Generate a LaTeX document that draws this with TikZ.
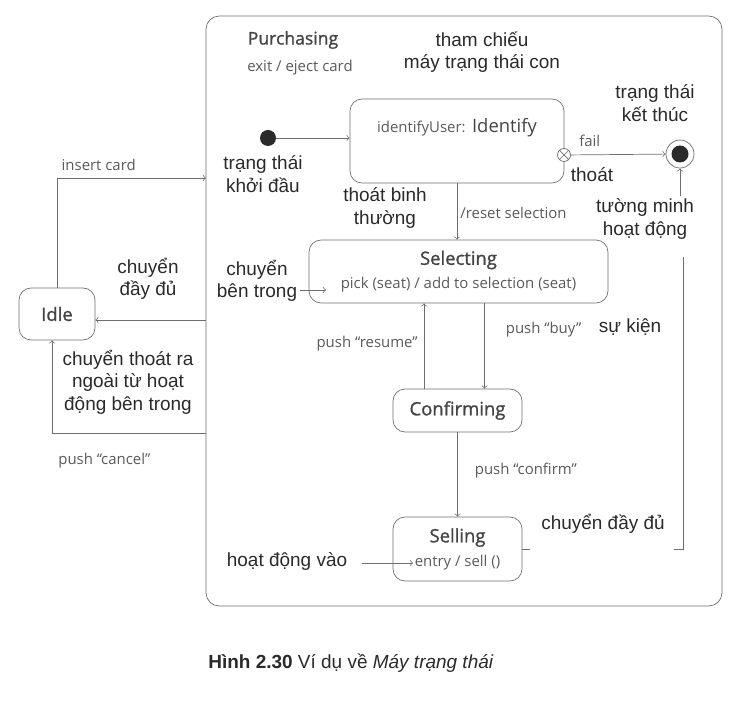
\documentclass[tikz,border=0pt]{standalone}
\usepackage{fontspec}
\setmainfont{Liberation Sans}
\newfontfamily\umlfont{Open Sans}
\newfontfamily\umltitle{Open Sans}[FakeBold=1.2]
\usetikzlibrary{positioning}
\definecolor{umlgray}{HTML}{5A5A5A}
\definecolor{titlegray}{HTML}{444444}
\definecolor{linegray}{HTML}{6E6E6E}
\definecolor{inkdark}{HTML}{2A2A2A}
\begin{document}
\begin{tikzpicture}[x=0.02cm,y=-0.02cm]
\tikzstyle{umlstate}=[draw=linegray, rounded corners=0.24cm, text=titlegray, font=\umltitle\fontsize{10.5}{12.5}\selectfont, align=center, inner sep=0pt]
\tikzstyle{uml}=[text=umlgray, font=\umlfont\fontsize{8.5}{10}\selectfont, inner sep=0pt]
\tikzstyle{note}=[text=inkdark, font=\fontsize{10.8}{12.8}\selectfont, align=center, inner sep=0pt]
\tikzstyle{trans}=[draw=linegray, ->]
\useasboundingbox (0,0) rectangle (754,712);
% outer state
\node[draw=linegray, rounded corners=0.26cm, minimum width=10.32cm, minimum height=11.8cm] (purch) at (464,311) {};
\node[uml, text=titlegray, font=\umltitle\fontsize{10}{12}\selectfont] (purchName) at (293,40) {Purchasing};
\node[uml] (purchExit) at (300,68) {exit / eject card};
\node[note] (lblRef) at (482,52) {tham chiếu\\máy trạng thái con};
% submachine
\node[fill=inkdark, circle, minimum size=0.32cm, inner sep=0pt] (init) at (268,138) {};
\node[note] (lblInit) at (263,174) {trạng thái\\khởi đầu};
\node[umlstate, minimum width=4.28cm, minimum height=1.68cm, text height=0.2cm, text depth=0.52cm] (ident) at (457,141) {{\umlfont\color{umlgray}\fontsize{8.5}{10}\selectfont identifyUser:} {\umlfont Identify}};
\node[draw=linegray, fill=white, circle, minimum size=0.26cm, inner sep=0pt,
  path picture={\draw[linegray] (path picture bounding box.north west) -- (path picture bounding box.south east)
    (path picture bounding box.north east) -- (path picture bounding box.south west);}] (exitPt) at (564,155) {};
\node[draw=linegray, circle, minimum size=0.56cm, inner sep=0pt,
  path picture={\fill[inkdark] (path picture bounding box.center) circle (0.17cm);}] (final) at (680,154) {};
\node[note] (lblFinal) at (655,103) {trạng thái\\kết thúc};
\node[note] (lblExit) at (592,175) {thoát};
\node[note] (lblExplicit) at (645,219) {tường minh\\hoạt động};
\coordinate (explTail) at (680,196);
\draw[trans] (init) -- (ident.west |- init);
\draw[trans] (exitPt) -- (final) node[uml, pos=0.2, above=0.15cm] {fail};
\draw[trans] (explTail) -- (final.south);
% selecting
\node[umlstate, minimum width=5.98cm, minimum height=1.26cm] (sel) at (458.5,271.5) {Selecting\\[1pt]{\umlfont\color{umlgray}\fontsize{8.5}{10}\selectfont pick (seat) / add to selection (seat)}};
\draw[trans] (ident.south) -- (ident.south |- sel.north)
  node[note, pos=0.44, left=0.6cm] {thoát binh\\thường}
  node[uml, pos=0.53, right=0.06cm] {/reset selection};
\node[note] (lblInt) at (257,281) {chuyển\\bên trong};
\coordinate (intTip) at (326,290);
\draw[trans, shorten <=0.06cm] (lblInt.east |- intTip) -- (intTip);
% confirming
\node[umlstate, minimum width=2.58cm, minimum height=0.86cm] (conf) at (457.5,410.5) {Confirming};
\draw[trans] ([xshift=-0.67cm]conf.north) -- ([xshift=-0.67cm]conf.north |- sel.south)
  node[uml, pos=0.53, left=0.12cm] {push “resume”};
\draw[trans] ([xshift=0.52cm]sel.south) -- ([xshift=0.52cm]sel.south |- conf.north)
  node[uml, pos=0.31, right=0.42cm] {push “buy”};
\node[note] (lblEvent) at (630,327) {sự kiện};
% selling
\node[umlstate, minimum width=2.58cm, minimum height=1.28cm] (sell) at (457.5,549) {Selling\\[1pt]{\umlfont\color{umlgray}\fontsize{8.5}{10}\selectfont entry / sell ()}};
\draw[trans] (conf.south) -- (sell.north)
  node[uml, pos=0.45, right=0.34cm] {push “confirm”};
\node[note] (lblFull) at (603,524) {chuyển đầy đủ};
\draw[linegray] (683,257) -- (683,549) -- (674,549);
\draw[linegray] (sell.east) -- ++(8,0);
\node[note] (lblEntry) at (287,561) {hoạt động vào};
\coordinate (entryTip) at (413,563);
\draw[trans, shorten <=0.3cm] (lblEntry.east |- entryTip) -- (entryTip);
% idle
\node[umlstate, minimum width=1.52cm, minimum height=1.04cm] (idle) at (57,314) {Idle};
\coordinate (cardIn) at (206,178);
\coordinate (fullOut) at (206,320);
\coordinate (cancelOut) at (206,433);
\draw[trans] (idle.north) |- (cardIn) node[uml, pos=0.64, above=0.14cm] {insert card};
\draw[trans] (fullOut) -- (idle.east |- fullOut);
\draw[trans] (cancelOut) -| ([xshift=-0.1cm]idle.south) node[uml, pos=0.33, below=0.4cm] {push “cancel”};
\node[note] (lblFullOut) at (148,279) {chuyển\\đầy đủ};
\node[note] (lblInner) at (128,382) {chuyển thoát ra\\ngoài từ hoạt\\động bên trong};
% caption
\node[note, anchor=west, font=\fontsize{10.8}{13}\selectfont] (caption) at (208,663) {\textbf{Hình 2.30} Ví dụ về \textit{Máy trạng thái}};
\end{tikzpicture}
\end{document}
